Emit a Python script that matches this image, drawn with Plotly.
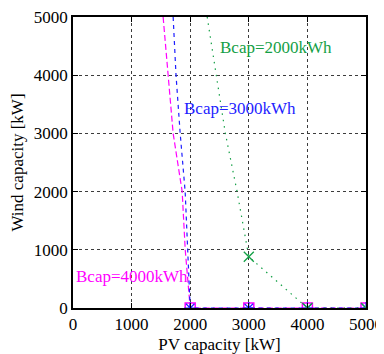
import plotly.graph_objects as go

# Curves
pv_2000 = [2290, 2450, 2600, 2800, 3000, 4000, 5000]
wind_2000 = [5000, 4000, 3000, 2000, 880, 0, 0]
pv_3000 = [1709, 1758, 1829, 1914, 2000, 3000, 4000, 5000]
wind_3000 = [5000, 4000, 3000, 2000, 0, 0, 0, 0]
pv_4000 = [1538, 1624, 1709, 1863, 1915, 2000, 3000, 4000, 5000]
wind_4000 = [5000, 4000, 3000, 2000, 1000, 0, 0, 0, 0]

# Simulated points (markers)
pts_pv = [2000, 3000, 4000, 5000]
pts_2000 = [None, 880, 0, 0]
pts_3000 = [0, 0, 0, 0]
pts_4000 = [0, 0, 0, 0]

ticks = [0, 1000, 2000, 3000, 4000, 5000]
tick_text = ["0", "1000", "2000", "3000", "4000", "5000"]

GREEN = "rgb(20,160,70)"
BLUE = "rgb(30,30,255)"
MAG = "rgb(255,0,255)"
FAM = "'Liberation Serif', 'Times New Roman', serif"
FS = 17

fig = go.Figure()
fig.add_trace(go.Scatter(x=pv_4000, y=wind_4000, mode="lines",
                         line=dict(color=MAG, width=1.2, dash="6px,3px")))
fig.add_trace(go.Scatter(x=pv_3000, y=wind_3000, mode="lines",
                         line=dict(color=BLUE, width=1.2, dash="4px,4px")))
fig.add_trace(go.Scatter(x=pv_2000, y=wind_2000, mode="lines",
                         line=dict(color=GREEN, width=1.2, dash="1.5px,5px")))
fig.add_trace(go.Scatter(x=pts_pv, y=pts_4000, mode="markers",
                         marker=dict(symbol="square-open", color=MAG, size=10, line=dict(width=1.5))))
fig.add_trace(go.Scatter(x=pts_pv, y=pts_3000, mode="markers",
                         marker=dict(symbol="asterisk-open", color=BLUE, size=10, line=dict(width=1.2, color=BLUE))))
fig.add_trace(go.Scatter(x=pts_pv, y=pts_2000, mode="markers",
                         marker=dict(symbol="x-thin-open", color=GREEN, size=10, line=dict(width=1.3, color=GREEN))))

font = dict(family=FAM, size=FS, color="black")
fig.add_annotation(x=2474, y=4470, text="Bcap=2000kWh", showarrow=False, xanchor="left",
                   font=dict(family=FAM, size=FS, color=GREEN))
fig.add_annotation(x=1860, y=3425, text="Bcap=3000kWh", showarrow=False, xanchor="left",
                   font=dict(family=FAM, size=FS, color=BLUE))
fig.add_annotation(x=20, y=548, text="Bcap=4000kWh", showarrow=False, xanchor="left",
                   font=dict(family=FAM, size=FS, color=MAG))

axis_common = dict(showline=True, linecolor="black", linewidth=1.5, mirror="ticks",
                   ticks="inside", ticklen=5, tickcolor="black", tickwidth=1,
                   showgrid=True, gridcolor="rgb(60,60,60)", griddash="dot", gridwidth=1,
                   zeroline=False, tickvals=ticks, ticktext=tick_text,
                   tickfont=font, automargin=False, ticklabeloverflow="allow")

fig.update_xaxes(range=[0, 5000], title=dict(text="PV capacity [kW]", font=font, standoff=8), **axis_common)
fig.update_yaxes(range=[0, 5000], title=dict(text="Wind capacity [kW]", font=font, standoff=6), **axis_common)

# page body has an 8px margin: figure is drawn 8px in from the top-left corner
fig.update_layout(width=376, height=346, showlegend=False,
                  margin=dict(l=65, r=18, t=9, b=46),
                  plot_bgcolor="white", paper_bgcolor="white", font=font)

fig.write_html("out.html")
